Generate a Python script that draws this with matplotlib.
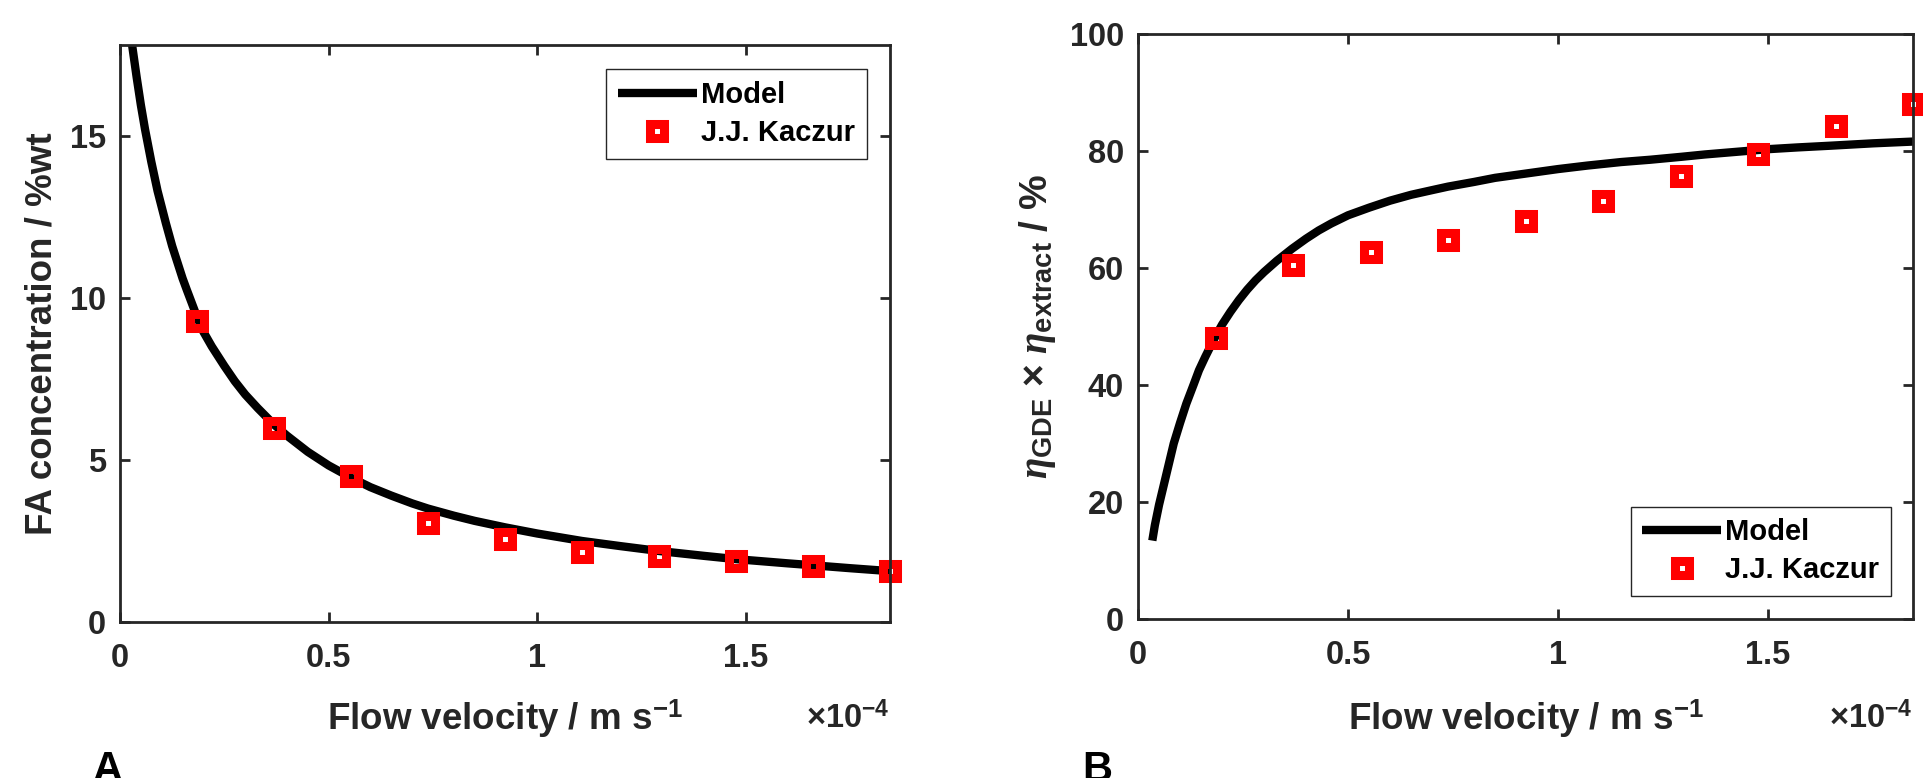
"""Formic acid concentration and efficiency versus flow velocity."""

import matplotlib

matplotlib.use("Agg")
import matplotlib.pyplot as plt

plt.rcParams["font.family"] = ["Liberation Sans", "DejaVu Sans"]
plt.rcParams["font.weight"] = "bold"
plt.rcParams["mathtext.fontset"] = "custom"
plt.rcParams["mathtext.rm"] = "Liberation Sans"
plt.rcParams["mathtext.bf"] = "Liberation Sans:bold"
plt.rcParams["mathtext.it"] = "Liberation Serif:italic"

# flow velocity in units of 1e-4 m/s
v_exp = [0.185, 0.369, 0.554, 0.738, 0.923, 1.107, 1.292, 1.476, 1.661, 1.845]
fa_exp = [9.3, 6.0, 4.5, 3.07, 2.56, 2.15, 2.03, 1.87, 1.72, 1.57]
eff_exp = [48.0, 60.5, 62.7, 64.8, 68.0, 71.4, 75.8, 79.5, 84.2, 88.0]

v_model_a = [0.025, 0.029, 0.04, 0.05, 0.06, 0.075, 0.09, 0.1, 0.11, 0.125,
             0.135, 0.15, 0.16, 0.185, 0.2, 0.22, 0.25, 0.275, 0.3, 0.33,
             0.37, 0.4, 0.45, 0.5, 0.554, 0.6, 0.65, 0.7, 0.738, 0.8,
             0.85, 0.923, 1.0, 1.107, 1.2, 1.292, 1.4, 1.476, 1.6, 1.661,
             1.75, 1.845]
fa_model = [18.2, 17.8, 16.8, 15.95, 15.2, 14.2, 13.3, 12.8, 12.3, 11.6,
            11.2, 10.6, 10.25, 9.4, 8.95, 8.5, 7.9, 7.43, 7.02, 6.6,
            6.08, 5.75, 5.25, 4.83, 4.45, 4.16, 3.9, 3.66, 3.5, 3.28,
            3.12, 2.92, 2.73, 2.5, 2.34, 2.19, 2.04, 1.94, 1.81, 1.75,
            1.66, 1.57]

v_model_b = [0.034, 0.04, 0.05, 0.06, 0.075, 0.085, 0.1, 0.115, 0.132, 0.145,
             0.16, 0.183, 0.2, 0.22, 0.24, 0.26, 0.28, 0.3, 0.33, 0.367,
             0.4, 0.43, 0.46, 0.5, 0.55, 0.6, 0.65, 0.7, 0.738, 0.8,
             0.85, 0.9, 1.0, 1.07, 1.15, 1.22, 1.294, 1.35, 1.4, 1.5,
             1.57, 1.65, 1.75, 1.845]
eff_model = [13.4, 16.0, 19.5, 22.5, 27.0, 30.0, 33.5, 36.8, 40.0, 42.5,
             44.8, 48.1, 50.3, 52.5, 54.5, 56.3, 57.9, 59.3, 61.2, 63.3,
             65.0, 66.4, 67.6, 69.0, 70.3, 71.5, 72.5, 73.3, 73.9, 74.7,
             75.4, 75.9, 76.9, 77.5, 78.1, 78.5, 79.0, 79.4, 79.7, 80.3,
             80.6, 80.9, 81.3, 81.6]

GRAY = "#262626"
FS = 23.5
LFS = 26.5

fig = plt.figure(figsize=(19.23, 7.78), dpi=100)
ax_a = fig.add_axes([0.0624, 0.2005, 0.4004, 0.7416])
ax_b = fig.add_axes([0.5918, 0.2044, 0.403, 0.752])


def style_axes(ax, ybot):
    for sp in ax.spines.values():
        sp.set_linewidth(2.0)
        sp.set_color(GRAY)
        sp.set_zorder(3)
    ax.tick_params(direction="in", top=True, right=True, length=7, width=2,
                   colors=GRAY, labelsize=FS)
    ax.tick_params(axis="x", pad=15)
    ax.tick_params(axis="y", pad=10)
    for lab in ax.get_xticklabels() + ax.get_yticklabels():
        lab.set_fontweight("bold")
    ax.set_xticks([0, 0.5, 1, 1.5])
    ax.set_xticklabels(["0", "0.5", "1", "1.5"])
    ax.set_xlabel("Flow velocity / m s$^{\\mathbf{-1}}$", fontsize=LFS,
                  fontweight="bold", color=GRAY)
    ax.xaxis.set_label_coords(0.5, ybot)
    ax.text(1.0, ybot - 0.054, "$\\times$10$^{\\mathbf{-4}}$",
            transform=ax.transAxes, ha="right", va="baseline", fontsize=FS,
            color=GRAY, fontweight="bold")


def draw(ax, vm, ym, ye):
    ax.plot(vm, ym, color="black", lw=6, solid_capstyle="butt",
            label="Model", zorder=2)
    ax.plot(v_exp, ye, ls="none", marker="s", ms=9.5, mew=6.5,
            mec="#ff0000", mfc="none", clip_on=False, label="J.J. Kaczur",
            zorder=2.2)


draw(ax_a, v_model_a, fa_model, fa_exp)
ax_a.set_xlim(0, 1.845)
ax_a.set_ylim(0, 17.8)
ax_a.set_yticks([0, 5, 10, 15])
style_axes(ax_a, -0.13)
ax_a.set_ylabel("FA concentration / %wt", fontsize=LFS, fontweight="bold",
                color=GRAY)
ax_a.yaxis.set_label_coords(-0.078, 0.5)

draw(ax_b, v_model_b, eff_model, eff_exp)
ax_b.set_xlim(0, 1.845)
ax_b.set_ylim(0, 100)
ax_b.set_yticks([0, 20, 40, 60, 80, 100])
style_axes(ax_b, -0.133)
ax_b.set_ylabel("$\\eta_{\\mathbf{GDE}}$ $\\times$ $\\eta_{\\mathbf{extract}}$ / %",
                fontsize=28, fontweight="bold", color=GRAY)
ax_b.yaxis.set_label_coords(-0.103, 0.5)

leg_kw = dict(fontsize=21, frameon=True, fancybox=False, framealpha=1,
              edgecolor=GRAY, borderaxespad=0, handlelength=2.7,
              handletextpad=0.15, borderpad=0.4, labelspacing=0.35)
leg_a = ax_a.legend(loc="upper right", bbox_to_anchor=(0.970, 0.958), **leg_kw)
leg_b = ax_b.legend(loc="lower right", bbox_to_anchor=(0.9716, 0.039), **leg_kw)
for leg in (leg_a, leg_b):
    leg.get_frame().set_linewidth(1.0)
    for t in leg.get_texts():
        t.set_fontweight("bold")
        t.set_color("black")

fig.text(93 / 1923, 1 - 750 / 778, "A", fontsize=30, fontweight="bold",
         va="top", ha="left", color="black")
fig.text(1082 / 1923, 1 - 750 / 778, "B", fontsize=30, fontweight="bold",
         va="top", ha="left", color="black")

fig.savefig("out.png", dpi=100)
